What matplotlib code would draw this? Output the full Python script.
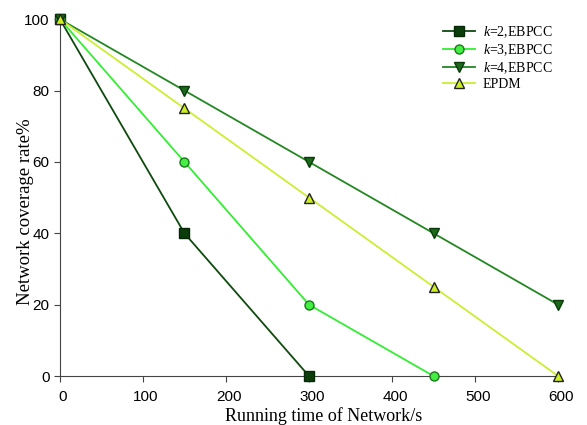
import matplotlib
matplotlib.use("Agg")
import matplotlib.pyplot as plt
from matplotlib.transforms import ScaledTranslation

time_s = [0, 150, 300, 450, 600]
k2 = [100, 40, 0]
k3 = [100, 60, 20, 0]
k4 = [100, 80, 60, 40, 20]
epdm = [100, 75, 50, 25, 0]

plt.rcParams["mathtext.fontset"] = "custom"
plt.rcParams["mathtext.it"] = "Liberation Serif:italic"
plt.rcParams["mathtext.rm"] = "Liberation Serif"

fig = plt.figure(figsize=(5.87, 4.25), dpi=100)
ax = fig.add_axes([0.102, 0.115, 0.849, 0.84])

lw = 1.3
ax.plot(time_s[:3], k2, color="#0f4a0f", lw=lw, marker="s", ms=6.5,
        mfc="#0b3d0b", mec="#062806", label="$k$=2,EBPCC", clip_on=False, zorder=3)
ax.plot(time_s[:4], k3, color="#33ee33", lw=lw, marker="o", ms=6.5,
        mfc="#44ee44", mec="#1a7a1a", label="$k$=3,EBPCC", clip_on=False, zorder=3)
ax.plot(time_s, k4, color="#238823", lw=lw, marker="v", ms=7,
        mfc="#1a6a1a", mec="#0a3a0a", label="$k$=4,EBPCC", clip_on=False, zorder=3)
ax.plot(time_s, epdm, color="#ccee33", lw=lw, marker="^", ms=7,
        mfc="#ccee22", mec="#222222", label="EPDM", clip_on=False, zorder=3)

ax.set_xlim(0, 600)
ax.set_ylim(0, 100)
ax.set_xticks([0, 100, 200, 300, 400, 500, 600])
ax.set_yticks([0, 20, 40, 60, 80, 100])
for s in ["top", "right"]:
    ax.spines[s].set_visible(False)
ax.spines["left"].set_color("#444444")
ax.spines["bottom"].set_color("#444444")
ax.tick_params(direction="out", length=4, color="#444444", labelsize=11,
               labelfontfamily="Liberation Sans")
ax.tick_params(axis="x", pad=6)
shift = ScaledTranslation(3 / 100, 0, fig.dpi_scale_trans)
for lab in ax.get_xticklabels():
    lab.set_transform(lab.get_transform() + shift)

ax.set_xlabel("Running time of Network/s", family="Liberation Serif", fontsize=13)
ax.set_ylabel("Network coverage rate%", family="Liberation Serif", fontsize=13.5)
ax.xaxis.set_label_coords(0.529, -0.088)
ax.yaxis.set_label_coords(-0.052, 0.46)

ax.legend(loc="upper left", bbox_to_anchor=(0.768, 0.985), frameon=False,
          prop={"family": "Liberation Serif", "size": 10}, handlelength=2.3,
          handletextpad=0.6, labelspacing=0.15, borderpad=0, borderaxespad=0)

fig.savefig("out.png", dpi=100)
